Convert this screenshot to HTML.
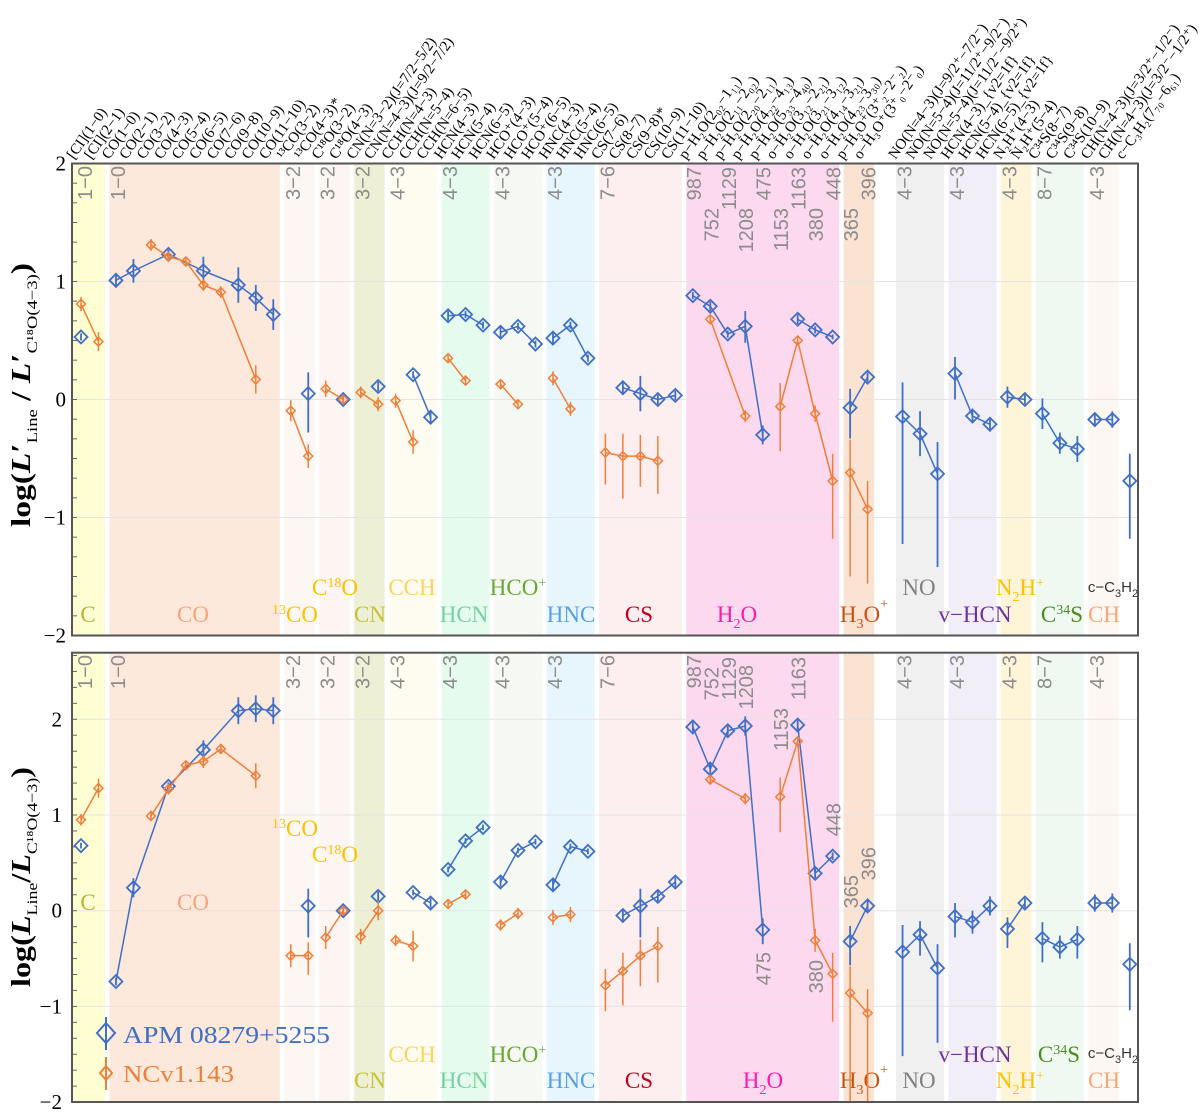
<!DOCTYPE html>
<html><head><meta charset="utf-8"><title>Line ratios</title>
<style>html,body{margin:0;padding:0;background:#fff}svg{display:block}</style></head>
<body>
<svg id="chart" xmlns="http://www.w3.org/2000/svg" width="1200" height="1114" viewBox="0 0 1200 1114">
<defs>
<clipPath id="clipTop"><rect x="72" y="163.5" width="1066" height="472"/></clipPath>
<clipPath id="clipBot"><rect x="72" y="652.7" width="1066" height="449.3"/></clipPath>
</defs>
<g id="layer"></g>
<text transform="translate(30,395) rotate(-90)" text-anchor="middle" font-family="Liberation Serif, serif" font-size="27" font-weight="bold" textLength="264" lengthAdjust="spacingAndGlyphs">log(<tspan font-style="italic">L</tspan>′<tspan dy="7" font-size="15" font-weight="normal">Line</tspan><tspan dy="-7"> / </tspan><tspan font-style="italic">L</tspan>′<tspan dy="7" font-size="15" font-weight="normal">C¹⁸O(4−3)</tspan><tspan dy="-7">)</tspan></text>
<text transform="translate(30,877) rotate(-90)" text-anchor="middle" font-family="Liberation Serif, serif" font-size="27" font-weight="bold" textLength="220" lengthAdjust="spacingAndGlyphs">log(<tspan font-style="italic">L</tspan><tspan dy="7" font-size="15" font-weight="normal">Line</tspan><tspan dy="-7">/</tspan><tspan font-style="italic">L</tspan><tspan dy="7" font-size="15" font-weight="normal">C¹⁸O(4−3)</tspan><tspan dy="-7">)</tspan></text>
<g>
<line x1="106" y1="1017" x2="106" y2="1050" stroke="#3f6fc6" stroke-width="2"/>
<polygon points="106,1023 115,1033 106,1043 97,1033" fill="none" stroke="#3f6fc6" stroke-width="2"/>
<text x="123" y="1043" font-family="Liberation Serif, serif" font-size="24" fill="#3f6fc6" textLength="207" lengthAdjust="spacingAndGlyphs">APM 08279+5255</text>
<line x1="106" y1="1057" x2="106" y2="1090" stroke="#f07f3a" stroke-width="2"/>
<polygon points="106,1066 112,1073 106,1080 100,1073" fill="none" stroke="#f07f3a" stroke-width="2"/>
<text x="123" y="1082" font-family="Liberation Serif, serif" font-size="24" fill="#f07f3a" textLength="111" lengthAdjust="spacingAndGlyphs">NCv1.143</text>
</g>
</svg>
<script>
// ---- data ----
const lineLabels = ["[CI](1−0)","[CI](2−1)","CO(1−0)","CO(2−1)","CO(3−2)","CO(4−3)","CO(5−4)","CO(6−5)","CO(7−6)","CO(9−8)","CO(10−9)","CO(11−10)","¹³CO(3−2)","¹³CO(4−3)*","C¹⁸O(3−2)","C¹⁸O(4−3)","CN(N=3−2)(J=7/2−5/2)","CN(N=4−3)(J=9/2−7/2)","CCH(N=4−3)","CCH(N=5−4)","CCH(N=6−5)","HCN(4−3)","HCN(5−4)","HCN(6−5)","HCO⁺(4−3)","HCO⁺(5−4)","HCO⁺(6−5)","HNC(4−3)","HNC(5−4)","HNC(6−5)","CS(7−6)","CS(8−7)","CS(9−8)*","CS(10−9)","CS(11−10)","p−H₂O(2₀₂−1₁₁)","p−H₂O(2₁₁−2₀₂)","p−H₂O(2₂₀−2₁₁)","p−H₂O(4₂₂−4₁₃)","p−H₂O(5₃₃−4₄₀)","o−H₂O(3₁₂−2₂₁)","o−H₂O(3₂₁−3₁₂)","o−H₂O(4₁₄−3₂₁)","o−H₂O(4₂₃−3₃₀)","p−H₃O⁺(3⁺₂−2⁻₂)","o−H₃O⁺(3⁺₀−2⁻₀)","","NO(N=4−3)(J=9/2⁺−7/2⁻)","NO(N=5−4)(J=11/2⁺−9/2⁻)","NO(N=5−4)(J=11/2⁻−9/2⁺)","HCN(4−3)_{v2=1f}","HCN(5−4)_{v2=1f}","HCN(6−5)_{v2=1f}","N₂H⁺(4−3)","N₂H⁺(5−4)","C³⁴S(8−7)","C³⁴S(9−8)","C³⁴S(10−9)","CH(N=4−3)(J=3/2⁺−1/2⁻)","CH(N=4−3)(J=3/2⁻−1/2⁺)","c−C₃H₂(7₇₀−6₆₁)"];

const blueK = [0,2,3,5,7,9,10,11,13,15,17,19,20,21,22,23,24,25,26,27,28,29,31,32,33,34,35,36,37,38,39,41,42,43,44,45,47,48,49,50,51,52,53,54,55,56,57,58,59,60];
const topBlueV = [0.53,1.01,1.09,1.23,1.09,0.97,0.86,0.72,0.05,0.0,0.11,0.21,-0.15,0.71,0.72,0.63,0.57,0.62,0.47,0.52,0.63,0.35,0.10,0.05,0.0,0.035,0.88,0.79,0.555,0.62,-0.30,0.68,0.59,0.53,-0.07,0.19,-0.145,-0.29,-0.63,0.22,-0.14,-0.21,0.02,0.0,-0.12,-0.37,-0.42,-0.17,-0.17,-0.69];
const topBlueUp = [0.03,0.06,0.1,0.04,0.12,0.15,0.11,0.13,0.18,0.03,0.04,0.03,0.05,0.04,0.03,0.03,0.05,0.03,0.03,0.05,0.03,0.03,0.05,0.15,0.04,0.04,0.03,0.04,0.03,0.13,0.08,0.04,0.03,0.02,0.16,0.04,0.29,0.19,0.27,0.14,0.06,0.06,0.09,0.04,0.13,0.09,0.11,0.06,0.07,0.23];
const topBlueDn = [0.03,0.06,0.1,0.04,0.12,0.15,0.11,0.13,0.33,0.03,0.04,0.03,0.05,0.04,0.03,0.03,0.05,0.03,0.03,0.05,0.03,0.03,0.05,0.15,0.04,0.04,0.03,0.04,0.03,0.14,0.08,0.04,0.03,0.02,0.26,0.04,1.08,0.19,0.79,0.22,0.06,0.06,0.09,0.04,0.13,0.09,0.11,0.06,0.07,0.49];

const orangeK = [0,1,4,5,6,7,8,10,12,13,14,15,16,17,18,19,21,22,24,25,27,28,30,31,32,33,36,38,40,41,42,43,44,45];
const topOrangeV = [0.81,0.49,1.31,1.21,1.17,0.97,0.91,0.17,-0.095,-0.48,0.09,0.0,0.06,-0.04,-0.01,-0.36,0.35,0.16,0.13,-0.04,0.18,-0.08,-0.45,-0.48,-0.48,-0.52,0.68,-0.14,-0.06,0.50,-0.12,-0.69,-0.62,-0.93];
const topOrangeUp = [0.06,0.08,0.05,0.04,0.04,0.05,0.05,0.12,0.09,0.1,0.07,0.04,0.05,0.06,0.06,0.1,0.03,0.04,0.04,0.04,0.06,0.06,0.16,0.19,0.18,0.21,0.03,0.05,0.2,0.04,0.07,0.23,0.28,0.24];
const topOrangeDn = [0.06,0.08,0.05,0.04,0.04,0.05,0.05,0.12,0.09,0.1,0.07,0.04,0.05,0.06,0.06,0.1,0.03,0.04,0.04,0.04,0.06,0.06,0.27,0.36,0.26,0.28,0.03,0.05,0.38,0.04,0.07,0.49,0.88,0.63];

const botBlueV = [0.68,-0.74,0.24,1.30,1.68,2.09,2.11,2.09,0.05,0.0,0.15,0.19,0.08,0.43,0.73,0.87,0.30,0.63,0.72,0.27,0.67,0.62,-0.05,0.05,0.15,0.30,1.92,1.48,1.88,1.93,-0.20,1.94,0.39,0.57,-0.32,0.05,-0.43,-0.25,-0.60,-0.06,-0.12,0.05,-0.19,0.08,-0.29,-0.38,-0.30,0.08,0.08,-0.56];
const botBlueUp = [0.03,0.04,0.1,0.04,0.1,0.14,0.14,0.14,0.18,0.03,0.05,0.03,0.05,0.03,0.03,0.03,0.05,0.03,0.03,0.06,0.03,0.03,0.06,0.18,0.06,0.05,0.05,0.05,0.05,0.1,0.12,0.05,0.05,0.04,0.16,0.06,0.28,0.14,0.25,0.14,0.12,0.1,0.12,0.05,0.17,0.12,0.14,0.09,0.1,0.22];
const botBlueDn = [0.03,0.04,0.1,0.04,0.1,0.14,0.14,0.14,0.33,0.03,0.05,0.03,0.05,0.03,0.03,0.03,0.05,0.03,0.03,0.06,0.03,0.03,0.06,0.33,0.06,0.05,0.05,0.05,0.05,0.1,0.15,0.05,0.05,0.04,0.25,0.06,1.09,0.22,0.78,0.22,0.12,0.1,0.2,0.05,0.25,0.12,0.2,0.09,0.1,0.48];

const botOrangeV = [0.95,1.28,0.99,1.27,1.52,1.56,1.69,1.41,-0.47,-0.47,-0.28,0.0,-0.27,0.0,-0.31,-0.37,0.07,0.17,-0.15,-0.03,-0.07,-0.04,-0.78,-0.63,-0.47,-0.37,1.37,1.17,1.19,1.77,-0.31,-0.66,-0.86,-1.07];
const botOrangeUp = [0.06,0.1,0.05,0.05,0.05,0.07,0.05,0.13,0.12,0.14,0.12,0.05,0.08,0.1,0.06,0.16,0.04,0.05,0.06,0.06,0.08,0.08,0.17,0.19,0.17,0.2,0.05,0.06,0.2,0.05,0.12,0.22,0.28,0.25];
const botOrangeDn = [0.06,0.1,0.05,0.05,0.05,0.07,0.05,0.13,0.12,0.2,0.12,0.05,0.08,0.1,0.06,0.16,0.04,0.05,0.06,0.06,0.08,0.08,0.27,0.36,0.32,0.38,0.05,0.06,0.37,0.05,0.12,0.5,1.14,0.93];

const yTicks = [-2,-1,0,1,2];
const h2oFreqs = ["987","752","1129","1208","475","1153","1163","380","448","365","396"];

// ---- layout / styles (not data) ----
const groups = [
 {id:'c',a:0,b:1,band:'#fefed2',col:'#b5b53a',tr:'1−0',lab:'C',lx:88,ty:622,by:910},
 {id:'co',a:2,b:11,band:'#fde8dc',col:'#f8a47c',tr:'1−0',lab:'CO',lx:193,ty:622,by:910},
 {id:'13co',a:12,b:13,band:'#fdf7f3',col:'#ffc000',tr:'3−2',lab:'<tspan dy="-8" font-size="14">13</tspan><tspan dy="8">CO</tspan>',lx:295,ty:622,by:836},
 {id:'c18o',a:14,b:15,band:'#fdf5f2',col:'#ffc000',tr:'3−2',lab:'C<tspan dy="-8" font-size="14">18</tspan><tspan dy="8">O</tspan>',lx:335,ty:595,by:862},
 {id:'cn',a:16,b:17,band:'#eef0d5',col:'#c4c43a',tr:'3−2',lab:'CN',lx:370,ty:622,by:1088},
 {id:'cch',a:18,b:20,band:'#fefbf1',col:'#fdd35a',tr:'4−3',lab:'CCH',lx:412,ty:595,by:1062},
 {id:'hcn',a:21,b:23,band:'#e4fbee',col:'#78d0a0',tr:'4−3',lab:'HCN',lx:464,ty:622,by:1088},
 {id:'hco',a:24,b:26,band:'#f6f9f3',col:'#66a830',tr:'4−3',lab:'HCO<tspan dy="-8" font-size="14">+</tspan>',lx:518,ty:595,by:1062},
 {id:'hnc',a:27,b:29,band:'#e7f6fd',col:'#5a9ee0',tr:'4−3',lab:'HNC',lx:571,ty:622,by:1088},
 {id:'cs',a:30,b:34,band:'#fdeef0',col:'#c00018',tr:'7−6',lab:'CS',lx:639,ty:622,by:1088},
 {id:'h2o',a:35,b:43,band:'#fcd9ef',col:'#ff1aa8',tr:null,lab:'H<tspan dy="6" font-size="14">2</tspan><tspan dy="-6">O</tspan>',lx:737,lxb:763,ty:622,by:1088},
 {id:'h3o',a:44,b:45,band:'#fbe3d3',col:'#c85010',tr:null,lab:'H<tspan dy="6" font-size="14">3</tspan><tspan dy="-6">O</tspan><tspan dy="-14" font-size="14">+</tspan>',lx:864,ty:622,by:1088},
 {id:'no',a:47,b:49,band:'#f0f0f0',col:'#808080',tr:'4−3',lab:'NO',lx:919,ty:595,by:1088},
 {id:'vhcn',a:50,b:52,band:'#f2eef8',col:'#7030a0',tr:'4−3',lab:'v−HCN',lx:975,ty:622,by:1062},
 {id:'n2h',a:53,b:54,band:'#fef5d9',col:'#ffc000',tr:'4−3',lab:'N<tspan dy="6" font-size="14">2</tspan><tspan dy="-6">H</tspan><tspan dy="-8" font-size="14">+</tspan>',lx:1020,ty:595,by:1088},
 {id:'c34s',a:55,b:57,band:'#eff9f2',col:'#4a8c20',tr:'8−7',lab:'C<tspan dy="-8" font-size="14">34</tspan><tspan dy="8">S</tspan>',lx:1062,lxb:1059,ty:622,by:1062},
 {id:'ch',a:58,b:59,band:'#fdf6f1',col:'#f5a878',tr:'4−3',lab:'CH',lx:1104,ty:622,by:1088},
 {id:'cc3h2',a:60,b:60,band:null,col:'#333333',tr:null,lab:'c−C<tspan dy="5" font-size="11">3</tspan><tspan dy="-5">H</tspan><tspan dy="5" font-size="11">2</tspan>',lx:1113,ty:592,by:1058,small:true}
];
const h2oTopY = [167,208,167,208,167,208,167,208,167,208,167];
const h2oBotY = [655,667,657,665,952,708,657,960,803,875,847];

const NS='http://www.w3.org/2000/svg';
const layer=document.getElementById('layer');
const X0=81, DX=17.48, XL=72, XR=1138;
function xk(k){return X0+DX*k;}
const panels={
 top:{y0:399.5,s:118,top:163.5,bot:635.5,clip:'clipTop'},
 bot:{y0:910.7,s:95.7,top:652.7,bot:1102,clip:'clipBot'}
};
function yv(p,v){return p.y0-p.s*v;}
function mk(tag,attrs,name,parent){
 const e=document.createElementNS(NS,tag);
 for(const a in attrs) e.setAttribute(a,attrs[a]);
 
 
 (parent||layer).appendChild(e);
 return e;
}
function groupOf(k){
 if(k>=35&&k<=39) return 'ph2o';
 if(k>=40&&k<=43) return 'oh2o';
 for(const g of groups) if(k>=g.a&&k<=g.b) return g.id;
 return 'none';
}

function drawPanel(pn,p){
 const g=mk('g',{},pn+'-panel');
 for(const gr of groups){
   if(!gr.band) continue;
   let x1=xk(gr.a)-6.5, x2=xk(gr.b)+6.5;
   if(gr.id==='c') x1=XL;
   mk('rect',{x:x1,y:p.top,width:x2-x1,height:p.bot-p.top,fill:gr.band},pn+'-band-'+gr.id,g);
 }
 for(const t of yTicks){
   const y=yv(p,t);
   if(y>p.top+1&&y<p.bot-1) mk('line',{x1:XL,x2:XR,y1:y,y2:y,stroke:'#e4e4e4','stroke-width':1},pn+'-gridline',g);
 }
 for(let v=-2;v<=2.8;v+=1/6){
   const y=yv(p,v);
   if(y>p.top&&y<p.bot) mk('line',{x1:XL,x2:XL+5,y1:y,y2:y,stroke:'#666','stroke-width':1},pn+'-minor-tick',g);
 }
 for(const t of yTicks){
   const y=yv(p,t);
   const tx=mk('text',{x:pn==='top'?66:62,y:y+7,'text-anchor':'end','font-family':'Liberation Serif, serif','font-size':21},pn+'-y-tick-label',g);
   tx.textContent=t<0?'−'+Math.abs(t):String(t);
 }
 for(const gr of groups){
   if(!gr.tr) continue;
   const cx=xk(gr.a)+2+(gr.id==='c'?2:0);
   const ty=pn==='top'?166:655;
   const tx=mk('text',{x:cx+7,y:ty,transform:'rotate(-90 '+(cx+7)+' '+ty+')','text-anchor':'end','font-family':'Liberation Sans, sans-serif','font-size':20,fill:'#8c8c8c'},pn+'-transition-label-'+gr.id,g);
   tx.textContent=gr.tr;
 }
 const yArr=pn==='top'?h2oTopY:h2oBotY;
 h2oFreqs.forEach((f,i)=>{
   const cx=xk(35+i)+1, ty=yArr[i];
   const tx=mk('text',{x:cx+7,y:ty,transform:'rotate(-90 '+(cx+7)+' '+ty+')','text-anchor':'end','font-family':'Liberation Sans, sans-serif','font-size':20,fill:'#8c8c8c'},pn+'-frequency-label',g);
   tx.textContent=f;
 });
 for(const gr of groups){
   const lx=(pn==='bot'&&gr.lxb)?gr.lxb:gr.lx;
   const tx=mk('text',{x:lx,y:pn==='top'?gr.ty:gr.by,'text-anchor':'middle','font-family':gr.small?'Liberation Sans, sans-serif':'Liberation Serif, serif','font-size':gr.small?15:23,fill:gr.col},pn+'-species-label-'+gr.id,g);
   tx.innerHTML=gr.lab;
 }
 const series = pn==='top'
   ? [{n:'apm',K:blueK,V:topBlueV,U:topBlueUp,D:topBlueDn,c:'#3f6fc6',r:6.5,w:1.8},
      {n:'ncv',K:orangeK,V:topOrangeV,U:topOrangeUp,D:topOrangeDn,c:'#f07f3a',r:4.5,w:1.5}]
   : [{n:'apm',K:blueK,V:botBlueV,U:botBlueUp,D:botBlueDn,c:'#3f6fc6',r:6.5,w:1.8},
      {n:'ncv',K:orangeK,V:botOrangeV,U:botOrangeUp,D:botOrangeDn,c:'#f07f3a',r:4.5,w:1.5}];
 for(const s of series){
   const sg=mk('g',{'clip-path':'url(#'+p.clip+')'},pn+'-series-'+s.n,g);
   for(let i=1;i<s.K.length;i++){
     if(groupOf(s.K[i])===groupOf(s.K[i-1])){
       mk('line',{x1:xk(s.K[i-1]),y1:yv(p,s.V[i-1]),x2:xk(s.K[i]),y2:yv(p,s.V[i]),stroke:s.c,'stroke-width':1.5},pn+'-'+s.n+'-line',sg);
     }
   }
   for(let i=0;i<s.K.length;i++){
     const x=xk(s.K[i]), y=yv(p,s.V[i]);
     mk('line',{x1:x,x2:x,y1:yv(p,s.V[i]+s.U[i]),y2:yv(p,s.V[i]-s.D[i]),stroke:s.c,'stroke-width':s.w},pn+'-'+s.n+'-errorbar',sg);
     const r=s.r;
     mk('polygon',{points:x+','+(y-r)+' '+(x+r)+','+y+' '+x+','+(y+r)+' '+(x-r)+','+y,fill:'none',stroke:s.c,'stroke-width':s.w},pn+'-'+s.n+'-point',sg);
   }
 }
 mk('rect',{x:XL,y:p.top,width:XR-XL,height:p.bot-p.top,fill:'none',stroke:'#555','stroke-width':2},pn+'-frame',g);
}
drawPanel('top',panels.top);
drawPanel('bot',panels.bot);

const lg=mk('g',{},'line-name-labels');
lineLabels.forEach((t,k)=>{
 if(!t) return;
 const x=xk(k)-7, y=160;
 const tx=mk('text',{x:x,y:y,transform:'rotate(-55 '+x+' '+y+')','font-family':'Liberation Serif, DejaVu Serif, serif','font-size':15},'line-name-label',lg);
 tx.textContent=t;
});
</script>
</body></html>
